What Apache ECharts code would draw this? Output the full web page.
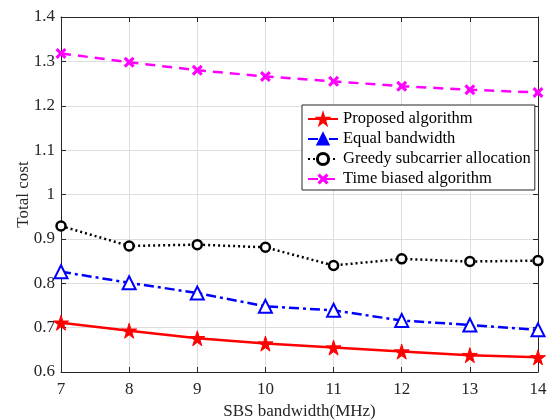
<!DOCTYPE html>
<html><head><meta charset="utf-8">
<script src="https://cdn.jsdelivr.net/npm/echarts@6/dist/echarts.min.js"></script>
<style>html,body{margin:0;padding:0;background:#fff}#c{width:549px;height:420px}</style>
</head><body><div id="c"></div>
<script>
const xValues = [7, 8, 9, 10, 11, 12, 13, 14];
const proposed = [0.711, 0.693, 0.676, 0.664, 0.655, 0.646, 0.638, 0.633];
const equalBw = [0.826, 0.801, 0.778, 0.748, 0.739, 0.716, 0.706, 0.695];
const greedy = [0.929, 0.884, 0.887, 0.881, 0.840, 0.855, 0.849, 0.851];
const timeBiased = [1.318, 1.298, 1.280, 1.266, 1.255, 1.244, 1.236, 1.230];
const seriesNames = ['Proposed algorithm', 'Equal bandwidth', 'Greedy subcarrier allocation', 'Time biased algorithm'];
const xAxisName = 'SBS bandwidth(MHz)';
const yAxisName = 'Total cost';

const font = '"Liberation Serif", "Times New Roman", serif';
const axisColor = '#262626';
const star = 'path://M50,0 L61,35 L98,35 L68,57 L79,91 L50,70 L21,91 L32,57 L2,35 L39,35 Z';
const cross = 'path://M0,2 L2,0 L5,3 L8,0 L10,2 L7,5 L10,8 L8,10 L5,7 L2,10 L0,8 L3,5 Z';
const pts = arr => xValues.map((x, i) => [x, arr[i]]);

const chart = echarts.init(document.getElementById('c'), null, {renderer: 'canvas'});
chart.setOption({
  animation: false,
  textStyle: {fontFamily: font},
  grid: {left: 61, right: 11, top: 17, bottom: 48, containLabel: false, outerBoundsMode: 'none'},
  legend: {
    orient: 'vertical', left: 302, top: 105,
    backgroundColor: '#fff', borderColor: axisColor, borderWidth: 1,
    padding: [5, 4, 2, 5], itemGap: 2, itemWidth: 30, itemHeight: 14,
    textStyle: {fontFamily: font, fontSize: 16.5, color: '#000', lineHeight: 18},
    data: [
      {name: seriesNames[0], itemStyle: {color: '#ff0000', borderColor: '#ff0000'}},
      {name: seriesNames[1], itemStyle: {color: '#0000ff', borderColor: '#0000ff'}},
      {name: seriesNames[2], itemStyle: {color: '#ffffff', borderColor: '#000000', borderWidth: 3}},
      {name: seriesNames[3], itemStyle: {color: '#ff00ff'}}
    ]
  },
  xAxis: [{
    type: 'value', min: 7, max: 14, interval: 1,
    name: xAxisName, nameLocation: 'middle', nameGap: 29,
    nameTextStyle: {fontFamily: font, fontSize: 17, color: axisColor},
    axisLine: {lineStyle: {color: axisColor, width: 1}},
    axisTick: {inside: true, length: 5, lineStyle: {color: axisColor}},
    axisLabel: {fontFamily: font, fontSize: 17, color: axisColor, margin: 9},
    splitLine: {show: true, lineStyle: {color: '#dedede', width: 1}}
  }, {
    type: 'value', position: 'top', min: 7, max: 14, interval: 1,
    axisLine: {lineStyle: {color: axisColor, width: 1}},
    axisTick: {inside: true, length: 5, lineStyle: {color: axisColor}},
    axisLabel: {show: false}, splitLine: {show: false}
  }],
  yAxis: [{
    type: 'value', min: 0.6, max: 1.4, interval: 0.1,
    name: yAxisName, nameLocation: 'middle', nameGap: 29, nameRotate: 90,
    nameMoveOverlap: false,
    nameTextStyle: {fontFamily: font, fontSize: 17, color: axisColor},
    axisLine: {show: true, lineStyle: {color: axisColor, width: 1}},
    axisTick: {show: true, inside: true, length: 5, lineStyle: {color: axisColor}},
    axisLabel: {fontFamily: font, fontSize: 17, color: axisColor, margin: 6},
    splitLine: {show: true, lineStyle: {color: '#dedede', width: 1}}
  }, {
    type: 'value', position: 'right', min: 0.6, max: 1.4, interval: 0.1,
    axisLine: {show: true, lineStyle: {color: axisColor, width: 1}},
    axisTick: {show: true, inside: true, length: 5, lineStyle: {color: axisColor}},
    axisLabel: {show: false}, splitLine: {show: false}
  }],
  series: [{
    name: seriesNames[0], type: 'line', data: pts(proposed),
    symbol: star, symbolSize: 15, color: '#ff0000',
    lineStyle: {color: '#ff0000', width: 2.5, type: 'solid'},
    itemStyle: {color: '#ff0000', borderColor: '#ff0000', borderWidth: 1}, z: 5
  }, {
    name: seriesNames[1], type: 'line', data: pts(equalBw),
    symbol: 'triangle', symbolSize: 13, color: '#0000ff',
    lineStyle: {color: '#0000ff', width: 2.5, type: [10, 4, 3, 4]},
    itemStyle: {color: '#ffffff', borderColor: '#0000ff', borderWidth: 2}, z: 4
  }, {
    name: seriesNames[2], type: 'line', data: pts(greedy),
    symbol: 'circle', symbolSize: 9, color: '#000000',
    lineStyle: {color: '#000000', width: 2.5, type: [2, 3]},
    itemStyle: {color: '#ffffff', borderColor: '#000000', borderWidth: 2.5}, z: 3
  }, {
    name: seriesNames[3], type: 'line', data: pts(timeBiased),
    symbol: cross, symbolSize: 11, color: '#ff00ff',
    lineStyle: {color: '#ff00ff', width: 2.5, type: [10, 7]},
    itemStyle: {color: '#ff00ff'}, z: 2
  }]
});
</script></body></html>
